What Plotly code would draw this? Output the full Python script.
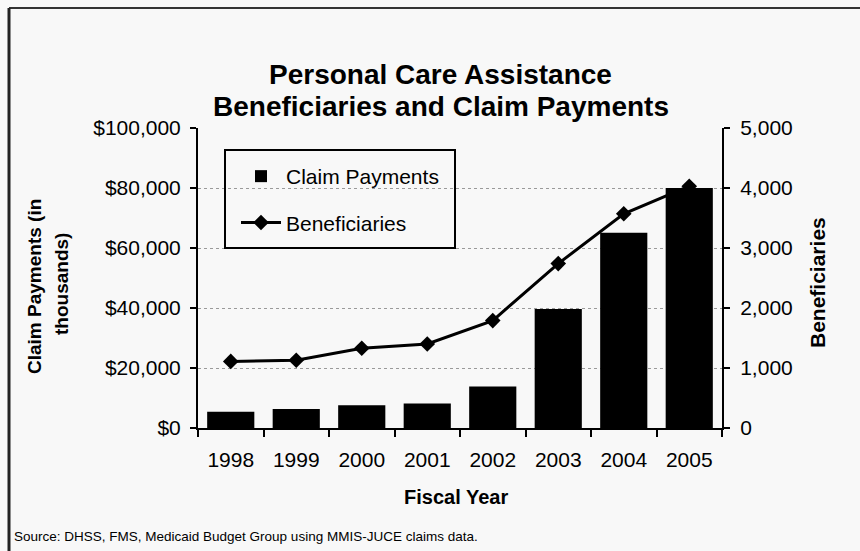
import plotly.graph_objects as go

years = ["1998", "1999", "2000", "2001", "2002", "2003", "2004", "2005"]
claim_payments = [5400, 6300, 7600, 8200, 13800, 39700, 65100, 80000]  # $ thousands
beneficiaries = [1110, 1130, 1330, 1400, 1790, 2740, 3570, 4030]

W, H = 860, 551
L, R, T, B = 198, 138, 128, 123
PW, PH = W - L - R, H - T - B

def px(x):
    return (x - L) / PW

def py(y):
    return (H - B - y) / PH

FONT = "Liberation Sans, Arial, sans-serif"

fig = go.Figure()
fig.add_trace(go.Bar(
    x=years, y=claim_payments, name="Claim Payments",
    marker=dict(color="black", line=dict(width=0)),
    legendgroup="a",
))
fig.add_trace(go.Scatter(
    x=years, y=beneficiaries, name="Beneficiaries", yaxis="y2",
    mode="lines+markers",
    line=dict(color="black", width=3),
    marker=dict(symbol="diamond", size=12, color="black"),
    legendgroup="b",
))

fig.update_layout(
    width=W, height=H,
    margin=dict(l=L, r=R, t=T, b=B),
    paper_bgcolor="#f8f8f8",
    plot_bgcolor="#f8f8f8",
    font=dict(family=FONT, color="black", size=21),
    bargap=0.28,
    showlegend=True,
    legend=dict(
        x=px(236), y=py(156), xanchor="left", yanchor="top",
        bgcolor="rgba(0,0,0,0)", borderwidth=0,
        font=dict(size=21, family=FONT),
        traceorder="grouped", tracegroupgap=16,
        itemwidth=40,
    ),
    xaxis=dict(
        type="category",
        showline=True, linecolor="black", linewidth=2,
        ticks="outside", tickson="boundaries", ticklen=7, tickwidth=1.5, tickcolor="black",
        ticklabelstandoff=12,
        tickfont=dict(size=21),
        showgrid=False,
        range=[-0.5, 7.5],
    ),
    yaxis=dict(
        range=[0, 100000], tickvals=[0, 20000, 40000, 60000, 80000, 100000],
        ticktext=["$0", "$20,000", "$40,000", "$60,000", "$80,000", "$100,000"],
        showline=True, linecolor="black", linewidth=2,
        ticks="outside", ticklen=6, tickwidth=1.5, tickcolor="black",
        ticklabelstandoff=5,
        tickfont=dict(size=21),
        showgrid=True, gridcolor="#9a9a9a", griddash="dot", gridwidth=1.2,
        zeroline=False,
    ),
    yaxis2=dict(
        overlaying="y", side="right",
        range=[0, 5000], tickvals=[0, 1000, 2000, 3000, 4000, 5000],
        ticktext=["0", "1,000", "2,000", "3,000", "4,000", "5,000"],
        showline=True, linecolor="black", linewidth=2,
        ticks="outside", ticklen=6, tickwidth=1.5, tickcolor="black",
        ticklabelstandoff=6,
        tickfont=dict(size=21),
        showgrid=False, zeroline=False,
    ),
)

# legend frame
fig.add_shape(type="rect", xref="paper", yref="paper",
              x0=px(225), x1=px(455), y0=py(248), y1=py(150),
              line=dict(color="black", width=2), fillcolor="rgba(0,0,0,0)", layer="above")

# outer frame (top and left edges)
fig.add_shape(type="line", xref="paper", yref="paper",
              x0=px(9), x1=px(860), y0=py(8), y1=py(8),
              line=dict(color="#333333", width=2))
fig.add_shape(type="line", xref="paper", yref="paper",
              x0=px(9), x1=px(9), y0=py(8), y1=py(551),
              line=dict(color="#222222", width=3))

ann = [
    dict(text="<b>Personal Care Assistance</b>", x=px(440), y=py(75), size=28, angle=0),
    dict(text="<b>Beneficiaries and Claim Payments</b>", x=px(441), y=py(107), size=28, angle=0),
    dict(text="<b>Claim Payments (in</b>", x=px(34), y=py(287), size=19, angle=-90),
    dict(text="<b>thousands)</b>", x=px(61), y=py(284), size=19, angle=-90),
    dict(text="<b>Beneficiaries</b>", x=px(817), y=py(283), size=21, angle=-90),
    dict(text="<b>Fiscal Year</b>", x=px(456), y=py(497), size=20, angle=0),
]
for a in ann:
    fig.add_annotation(text=a["text"], x=a["x"], y=a["y"], xref="paper", yref="paper",
                       xanchor="center", yanchor="middle", showarrow=False,
                       textangle=a["angle"], font=dict(size=a["size"], family=FONT))

fig.add_annotation(text="Source: DHSS, FMS, Medicaid Budget Group using MMIS-JUCE claims data.",
                   x=px(12), y=py(536), xref="paper", yref="paper",
                   xanchor="left", yanchor="middle", showarrow=False,
                   font=dict(size=13.5, family=FONT))

fig.write_html("out.html")
